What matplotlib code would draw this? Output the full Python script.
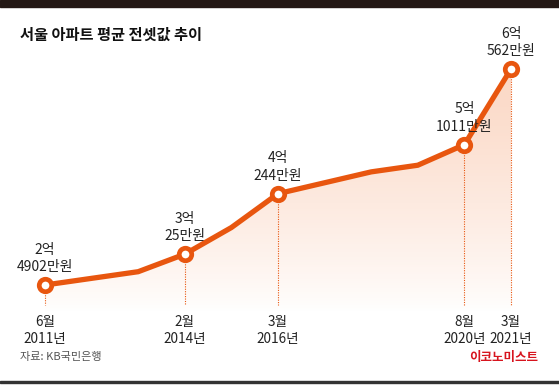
import numpy as np
import matplotlib.pyplot as plt
from matplotlib.patches import Polygon

plt.rcParams['font.family'] = ['Noto Sans CJK KR', 'DejaVu Sans']

# data (x = slot on the schematic time axis, y = price in 억원 as drawn)
slots = [0, 2, 3, 4, 5, 7, 8, 9, 10]
prices = [2.49, 2.71, 3.00, 3.44, 4.00, 4.36, 4.47, 4.81, 6.06]

mark_slots = [0, 3, 5, 9, 10]
mark_prices = [2.49, 3.00, 4.00, 4.81, 6.06]
value_labels = ["2억\n4902만원", "3억\n25만원", "4억\n244만원", "5억\n1011만원", "6억\n562만원"]
date_labels = ["6월\n2011년", "2월\n2014년", "3월\n2016년", "8월\n2020년", "3월\n2021년"]

orange = "#e8560f"
text_col = "#222222"

fig = plt.figure(figsize=(5.59, 3.85), dpi=100)
ax = fig.add_axes([0, 0, 1, 1])
ax.set_xlim(-0.966, 11.03)
ax.set_ylim(0.837, 7.201)
ax.axis('off')

# gradient fill under the line
base = 2.05
top = 6.2
grad = np.linspace(1, 0, 256).reshape(-1, 1)
rgba = np.zeros((256, 1, 4))
rgba[..., 0] = 0.96
rgba[..., 1] = 0.55
rgba[..., 2] = 0.33
rgba[..., 3] = grad[..., 0:1] ** 0.8 * 0.36
img = ax.imshow(rgba, extent=[slots[0], slots[-1], base, top], origin='upper',
                aspect='auto', zorder=1)
poly_pts = [(slots[0], base)] + list(zip(slots, prices)) + [(slots[-1], base)]
poly = Polygon(poly_pts, closed=True, facecolor='none', edgecolor='none')
ax.add_patch(poly)
img.set_clip_path(poly)

# dotted drop lines
for xs, ys in zip(mark_slots, mark_prices):
    ax.plot([xs, xs], [ys, 2.16], color=orange, lw=0.8, ls=(0, (1, 1.2)), zorder=2)

ax.plot(slots, prices, color=orange, lw=3.8, solid_joinstyle='miter', zorder=3)
ax.plot(mark_slots, mark_prices, 'o', ms=9, mfc='white', mec=orange, mew=3.4, zorder=4)

for xs, ys, lab in zip(mark_slots, mark_prices, value_labels):
    ax.annotate(lab, (xs, ys), xytext=(0, 8), textcoords='offset points',
                ha='center', va='bottom', fontsize=10, color=text_col, linespacing=1.3)

for xs, lab in zip(mark_slots, date_labels):
    ax.text(xs, 2.0, lab, ha='center', va='top', fontsize=9.8, color=text_col, linespacing=1.35)

fig.text(20 / 559, 1 - 35 / 385, "서울 아파트 평균 전셋값 추이", fontsize=11, fontweight='bold',
         color="#111111", va='center', ha='left')
fig.text(20 / 559, 1 - 357 / 385, "자료: KB국민은행", fontsize=8, color="#555555",
         va='center', ha='left')
fig.text(538 / 559, 1 - 357 / 385, "이코노미스트", fontsize=9, fontweight='bold',
         color="#d7141e", va='center', ha='right')

# frame bars
fig.patches.append(plt.Rectangle((0, 1 - 7 / 385), 1, 7 / 385, transform=fig.transFigure,
                                 color="#231815", zorder=0))
fig.patches.append(plt.Rectangle((0, 2 / 385), 1, 2 / 385, transform=fig.transFigure,
                                 color="#333333", zorder=0))

fig.savefig("out.png", dpi=100)
